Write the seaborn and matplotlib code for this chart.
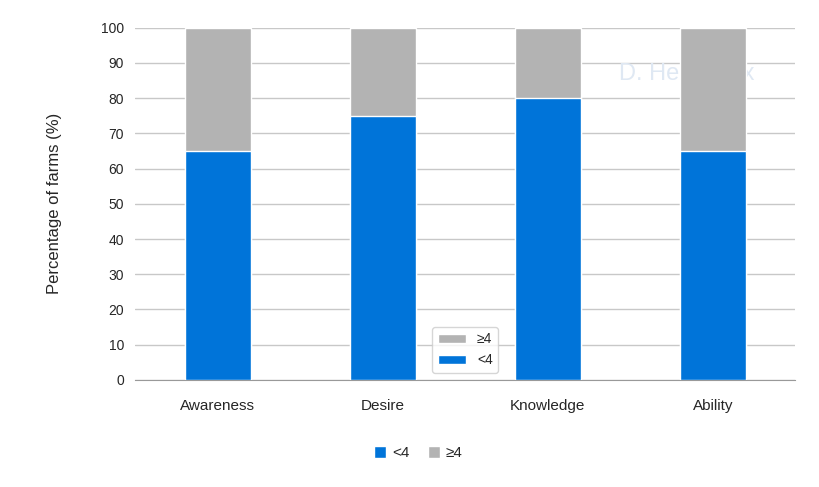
import matplotlib
matplotlib.use("Agg")
import matplotlib.pyplot as plt
import seaborn as sns
import pandas as pd

categories = ["Awareness", "Desire", "Knowledge", "Ability"]
below4 = [65, 75, 80, 65]
above4 = [35, 25, 20, 35]

df = pd.DataFrame({"cat": categories, "low": below4,
                   "total": [a + b for a, b in zip(below4, above4)]})

sns.set_style("white")
plt.rcParams['font.family'] = ['Liberation Sans', 'DejaVu Sans']

fig = plt.figure(figsize=(8.2, 4.87), dpi=100)
ax = fig.add_axes([0.165, 0.22, 0.805, 0.723])

sns.barplot(data=df, x="cat", y="total", color="#b3b3b3", width=0.4,
            saturation=1, ax=ax, label="≥4", zorder=2)
sns.barplot(data=df, x="cat", y="low", color="#0074d9", width=0.4,
            saturation=1, ax=ax, label="<4", zorder=3)

ax.set_ylim(0, 100)
ax.set_yticks(range(0, 101, 10))
ax.yaxis.grid(True, color="#c8c8c8", linewidth=1, zorder=0)
ax.set_axisbelow(True)
for s in ["top", "right", "left"]:
    ax.spines[s].set_visible(False)
ax.spines["bottom"].set_color("#999999")
ax.tick_params(axis="y", length=0, labelsize=10, pad=8)
ax.tick_params(axis="x", length=0, labelsize=11, pad=14)
ax.set_xlabel("")
ax.set_ylabel("Percentage of farms (%)", fontsize=12, labelpad=28)

ax.text(0.835, 0.87, "D. Hendrickx", transform=ax.transAxes, fontsize=17,
        color="#dfe8f3", ha="center", va="center", zorder=1)

h, l = ax.get_legend_handles_labels()
order = [l.index("<4"), l.index("≥4")]
fig.legend([h[i] for i in order], [l[i] for i in order], loc="center",
           bbox_to_anchor=(0.51, 0.07), ncol=2, frameon=False, fontsize=11,
           handlelength=0.8, handleheight=0.8, handletextpad=0.4, columnspacing=1.2)

fig.savefig("out.png", dpi=100)
